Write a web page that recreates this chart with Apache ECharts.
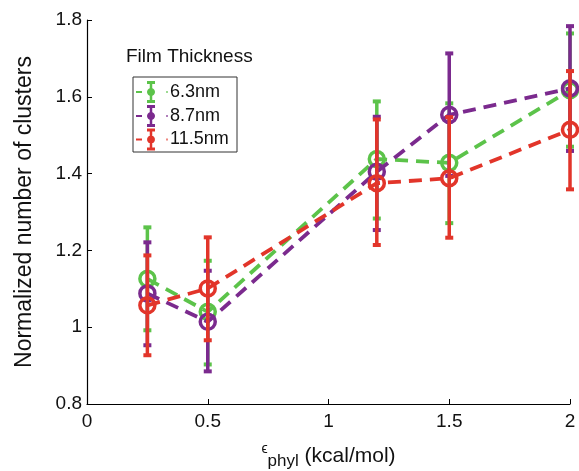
<!DOCTYPE html>
<html><head><meta charset="utf-8">
<script src="https://cdn.jsdelivr.net/npm/echarts@6/dist/echarts.min.js"></script>
<style>html,body{margin:0;padding:0;background:#fff}#c{width:579px;height:471px}</style>
</head><body><div id="c"></div>
<script>
const xVals = [0.25, 0.5, 1.2, 1.5, 2];
const names = ['6.3nm', '8.7nm', '11.5nm'];
const mean63 = [1.126, 1.040, 1.438, 1.428, 1.617];
const low63  = [0.992, 0.903, 1.283, 1.271, 1.470];
const high63 = [1.260, 1.173, 1.588, 1.583, 1.765];
const mean87 = [1.088, 1.014, 1.405, 1.553, 1.622];
const low87  = [0.953, 0.885, 1.253, 1.394, 1.459];
const high87 = [1.221, 1.147, 1.548, 1.713, 1.784];
const mean115 = [1.057, 1.101, 1.375, 1.388, 1.514];
const low115  = [0.927, 0.966, 1.214, 1.233, 1.359];
const high115 = [1.187, 1.234, 1.541, 1.547, 1.667];
const xTicks = [0, 0.5, 1, 1.5, 2];
const yTicks = [0.8, 1, 1.2, 1.4, 1.6, 1.8];

const colors = ['#5cc34a', '#7b2a8e', '#e2352a'];
const means = [mean63, mean87, mean115];
const lows = [low63, low87, low115];
const highs = [high63, high87, high115];
const FONT = 'Liberation Sans, Arial, sans-serif';

const series = [];
names.forEach((n, i) => {
  const c = colors[i];
  series.push({
    name: n, type: 'line',
    data: xVals.map((x, k) => [x, means[i][k]]),
    symbol: 'circle', symbolSize: 15,
    itemStyle: { color: 'rgba(0,0,0,0)', borderColor: c, borderWidth: 3.5 },
    lineStyle: { color: c, width: 3.8, type: [13, 8] },
    z: 2 + i * 2, animation: false
  });
  series.push({
    name: n + ' err', type: 'custom',
    data: xVals.map((x, k) => [x, lows[i][k], highs[i][k]]),
    renderItem: function (params, api) {
      const x = api.value(0);
      const lo = api.coord([x, api.value(1)]);
      const hi = api.coord([x, api.value(2)]);
      const cw = 8, ch = 4;
      return {
        type: 'group',
        children: [
          { type: 'line', shape: { x1: lo[0], y1: lo[1], x2: hi[0], y2: hi[1] }, style: { stroke: c, lineWidth: 3.5 } },
          { type: 'rect', shape: { x: hi[0] - cw / 2, y: hi[1] - ch / 2, width: cw, height: ch }, style: { fill: c } },
          { type: 'rect', shape: { x: lo[0] - cw / 2, y: lo[1] - ch / 2, width: cw, height: ch }, style: { fill: c } }
        ]
      };
    },
    z: 3 + i * 2, animation: false
  });
});

// legend built from graphic elements
const legendGraphics = [
  { type: 'text', left: 126, top: 47, style: { text: 'Film Thickness', font: '19px ' + FONT, fill: '#111' } },
  { type: 'rect', shape: { x: 133, y: 77, width: 104, height: 75 }, style: { fill: '#fff', stroke: '#333', lineWidth: 1 }, z: 10 }
];
const legYs = [92, 116, 139.5];
names.forEach((n, i) => {
  const c = colors[i], y = legYs[i];
  legendGraphics.push(
    { type: 'line', shape: { x1: 136, y1: y, x2: 142, y2: y }, style: { stroke: c, lineWidth: 2 }, z: 11 },
    { type: 'line', shape: { x1: 151, y1: y - 10, x2: 151, y2: y + 10 }, style: { stroke: c, lineWidth: 2.5 }, z: 11 },
    { type: 'rect', shape: { x: 147, y: y - 11, width: 8, height: 3 }, style: { fill: c }, z: 11 },
    { type: 'rect', shape: { x: 147, y: y + 8, width: 8, height: 3 }, style: { fill: c }, z: 11 },
    { type: 'circle', shape: { cx: 151, cy: y, r: 3.5 }, style: { fill: c, stroke: c, lineWidth: 1 }, z: 11 },
    { type: 'line', shape: { x1: 166, y1: y, x2: 168, y2: y }, style: { stroke: c, lineWidth: 2, opacity: 0.6 }, z: 11 },
    { type: 'text', x: 170, y: y, style: { text: n, font: '18px ' + FONT, fill: '#111', textVerticalAlign: 'middle' }, z: 11 }
  );
});

const chart = echarts.init(document.getElementById('c'), null, { renderer: 'canvas' });
chart.setOption({
  backgroundColor: '#fff',
  animation: false,
  grid: { left: 87, right: 9, top: 20, bottom: 67, containLabel: false, outerBoundsMode: 'none' },
  xAxis: {
    type: 'value', min: xTicks[0], max: xTicks[xTicks.length - 1], interval: 0.5,
    axisLine: { show: true, lineStyle: { color: '#000', width: 1.2 } },
    axisTick: { show: true, inside: true, length: 5, lineStyle: { color: '#000' } },
    axisLabel: { color: '#111', fontSize: 19, fontFamily: FONT, margin: 8 },
    splitLine: { show: false },
    name: '{e|ϵ}{s|phyl} {n|(kcal/mol)}', nameLocation: 'middle', nameGap: 38,
    nameTextStyle: {
      color: '#111', fontSize: 21, fontFamily: FONT, lineHeight: 28,
      rich: {
        e: { fontSize: 14, fontFamily: FONT, color: '#111', lineHeight: 28, verticalAlign: 'top' },
        s: { fontSize: 17, fontFamily: FONT, color: '#111', lineHeight: 28, verticalAlign: 'bottom' },
        n: { fontSize: 21, fontFamily: FONT, color: '#111', lineHeight: 28, verticalAlign: 'middle' }
      }
    }
  },
  yAxis: {
    type: 'value', min: yTicks[0], max: yTicks[yTicks.length - 1], interval: 0.2,
    axisLine: { show: true, lineStyle: { color: '#000', width: 1.2 } },
    axisTick: { show: true, inside: true, length: 5, lineStyle: { color: '#000' } },
    axisLabel: { color: '#111', fontSize: 19, fontFamily: FONT, margin: 5 },
    splitLine: { show: false },
    name: 'Normalized number of clusters', nameLocation: 'middle', nameGap: 51,
    nameTextStyle: { color: '#111', fontSize: 23, fontFamily: FONT }
  },
  graphic: legendGraphics,
  series: series
});
</script></body></html>
